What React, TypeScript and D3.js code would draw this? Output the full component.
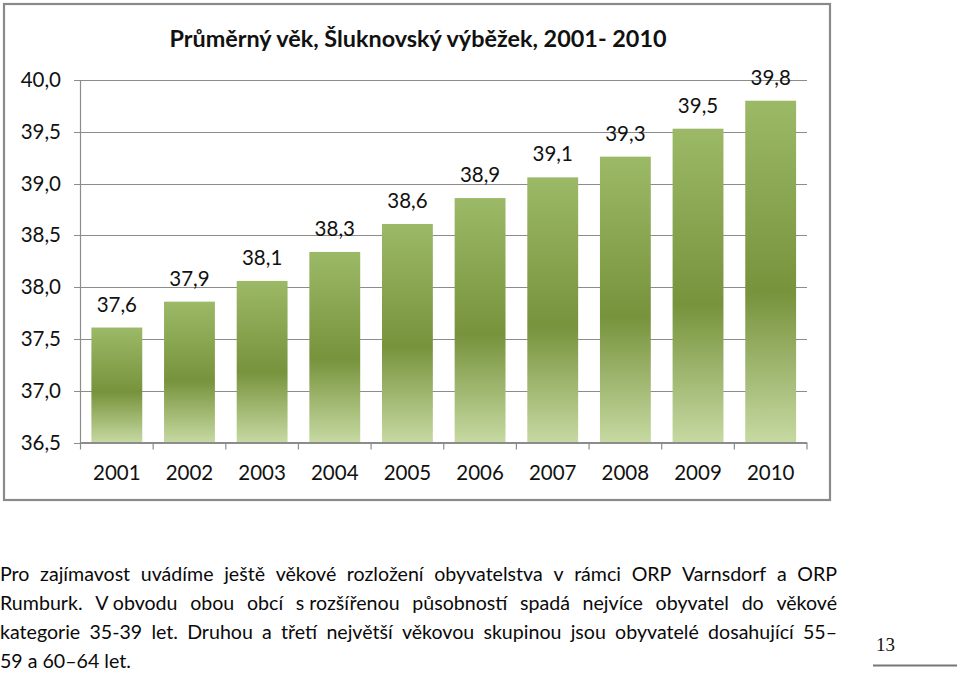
import React, { useEffect, useRef } from "react";
import * as d3 from "d3";

const years = ["2001", "2002", "2003", "2004", "2005", "2006", "2007", "2008", "2009", "2010"];
const avgAge = [37.61, 37.86, 38.06, 38.34, 38.61, 38.86, 39.06, 39.26, 39.53, 39.8];
const yTicks = [36.5, 37.0, 37.5, 38.0, 38.5, 39.0, 39.5, 40.0];
const titleText = "Průměrný věk, Šluknovský výběžek, 2001- 2010";
const justifiedLines = [
  "Pro zajímavost uvádíme ještě věkové rozložení obyvatelstva v rámci ORP Varnsdorf a ORP",
  "Rumburk. V\u00a0obvodu obou obcí s\u00a0rozšířenou působností spadá nejvíce obyvatel do věkové",
  "kategorie 35-39 let. Druhou a třetí největší věkovou skupinou jsou obyvatelé dosahující 55–",
];
const lastLine = "59 a 60–64 let.";
const pageNumber = "13";

const W = 960;
const H = 684;
const FONT = "Lato, 'Open Sans', sans-serif";
const PARA_SIZE = 19.6;

export default function App() {
  const paraRef = useRef<SVGGElement>(null);

  const x = d3.scaleBand<string>().domain(years).range([80.5, 807]).paddingInner(0.3).paddingOuter(0.15);
  const y = d3.scaleLinear().domain([36.5, 40]).range([442.5, 80]);
  const fmt = (v: number) => v.toFixed(1).replace(".", ",");

  useEffect(() => {
    const g = d3.select(paraRef.current);
    g.selectAll("*").remove();
    const left = 0;
    const right = 837;
    const baseline0 = 581;
    const lh = 29;
    justifiedLines.forEach((line, i) => {
      const words = line.split(" ");
      const nodes = words.map((w) =>
        g
          .append("text")
          .attr("y", baseline0 + i * lh)
          .attr("font-family", FONT)
          .attr("font-size", PARA_SIZE)
          .attr("fill", "#0a0a0a")
          .style("white-space", "pre")
          .text(w)
      );
      const widths = nodes.map((n) => (n.node() as SVGTextElement).getComputedTextLength());
      const total = widths.reduce((a, b) => a + b, 0);
      const gap = (right - left - total) / (words.length - 1);
      let cx = left;
      nodes.forEach((n, k) => {
        n.attr("x", cx);
        cx += widths[k] + gap;
      });
    });
    g.append("text")
      .attr("x", left)
      .attr("y", baseline0 + justifiedLines.length * lh)
      .attr("font-family", FONT)
      .attr("font-size", PARA_SIZE)
      .attr("fill", "#0a0a0a")
      .text(lastLine);
  }, []);

  const step = x.step();
  const boundaries = d3.range(years.length + 1).map((i) => 80.5 + i * step);

  return (
    <svg
      width={W}
      height={H}
      style={{ position: "absolute", left: 0, top: 0, background: "#fff" }}
    >
      <defs>
        <linearGradient id="barGrad" x1="0" y1="0" x2="0" y2="1">
          <stop offset="0" stopColor="#9cb967" />
          <stop offset="0.56" stopColor="#77933c" />
          <stop offset="1" stopColor="#c6d9a2" />
        </linearGradient>
      </defs>
      <rect x={0} y={0} width={W} height={H} fill="#fff" />
      {/* chart border */}
      <rect x={4} y={4} width={826} height={496} fill="none" stroke="#8a8a8a" strokeWidth={2.2} />
      {/* title */}
      <text
        x={418}
        y={47}
        textAnchor="middle"
        fontFamily={FONT}
        fontWeight="bold"
        fontSize={23.4}
        fill="#111"
      >
        {titleText}
      </text>
      {/* gridlines */}
      {yTicks.map((t) => (
        <line key={t} x1={74} x2={807} y1={Math.round(y(t)) + 0.5} y2={Math.round(y(t)) + 0.5} stroke="#8c8c8c" strokeWidth={1} />
      ))}
      {/* y tick labels */}
      {yTicks.map((t) => (
        <text key={"l" + t} x={61} y={y(t) + 7} textAnchor="end" fontFamily={FONT} fontSize={20.5} fill="#111">
          {fmt(t)}
        </text>
      ))}
      {/* bars */}
      {years.map((yr, i) => (
        <rect
          key={yr}
          x={x(yr)}
          y={y(avgAge[i])}
          width={x.bandwidth()}
          height={y(36.5) - y(avgAge[i])}
          fill="url(#barGrad)"
        />
      ))}
      {/* value labels */}
      {years.map((yr, i) => (
        <text
          key={"v" + yr}
          x={(x(yr) as number) + x.bandwidth() / 2}
          y={y(avgAge[i]) - 16}
          textAnchor="middle"
          fontFamily={FONT}
          fontSize={20.5}
          fill="#111"
        >
          {fmt(avgAge[i])}
        </text>
      ))}
      {/* axes */}
      <line x1={80.5} x2={80.5} y1={80} y2={443} stroke="#8c8c8c" strokeWidth={1.2} />
      <line x1={80} x2={807} y1={442.5} y2={442.5} stroke="#8c8c8c" strokeWidth={1.2} />
      {boundaries.map((b, i) => (
        <line key={"tk" + i} x1={b} x2={b} y1={442.5} y2={449.5} stroke="#8c8c8c" strokeWidth={1.2} />
      ))}
      {years.map((yr) => (
        <text
          key={"x" + yr}
          x={(x(yr) as number) + x.bandwidth() / 2}
          y={480}
          textAnchor="middle"
          fontFamily={FONT}
          fontSize={20.5}
          fill="#111"
        >
          {yr}
        </text>
      ))}
      {/* paragraph */}
      <g ref={paraRef} />
      {/* page number */}
      <text x={876} y={651} fontFamily="'Liberation Serif', 'DejaVu Serif', serif" fontSize={19} fill="#111">
        {pageNumber}
      </text>
      <line x1={873} x2={957} y1={665.5} y2={665.5} stroke="#777" strokeWidth={2} />
    </svg>
  );
}
